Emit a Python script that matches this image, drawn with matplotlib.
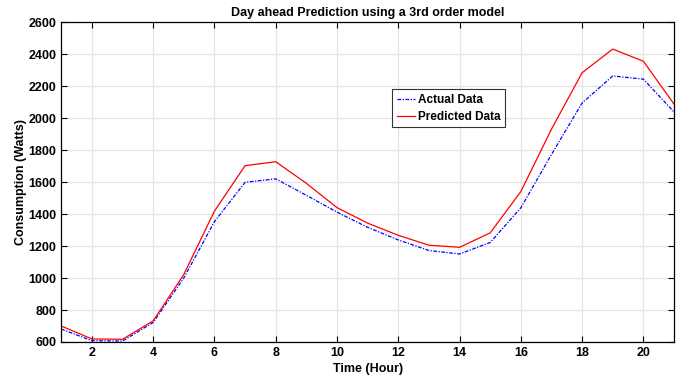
import numpy as np
import matplotlib
matplotlib.use("Agg")
import matplotlib.pyplot as plt

hours = np.arange(1, 22)
actual = [681, 608, 606, 722, 1000, 1352, 1598, 1620, 1517, 1412, 1317,
          1238, 1172, 1150, 1222, 1439, 1772, 2094, 2263, 2243, 2038]
predicted = [700, 619, 617, 732, 1022, 1418, 1702, 1727, 1592, 1440, 1343,
             1267, 1205, 1192, 1282, 1540, 1930, 2283, 2431, 2355, 2087]

plt.rcParams['font.family'] = ['Liberation Sans', 'DejaVu Sans']
plt.rcParams['font.weight'] = 'bold'

fig = plt.figure(figsize=(6.92, 3.8), dpi=100)
ax = fig.add_axes([0.0885, 0.1, 0.8855, 0.842])

ax.plot(hours, actual, color='blue', linewidth=0.9, dashes=(3, 1.2, 1, 1.2),
        label='Actual Data')
ax.plot(hours, predicted, color='red', linestyle='-', linewidth=0.9, label='Predicted Data')

ax.set_xlim(1, 21)
ax.set_ylim(600, 2600)
ax.set_xticks(np.arange(2, 21, 2))
ax.set_yticks(np.arange(600, 2601, 200))
ax.grid(True, color='#e3e3e3', linewidth=0.9)
ax.set_axisbelow(True)
ax.tick_params(direction='in', top=True, right=True, labelsize=9, length=4, width=0.8)
for lbl in ax.get_xticklabels() + ax.get_yticklabels():
    lbl.set_fontweight('bold')
for s in ax.spines.values():
    s.set_linewidth(0.9)

ax.set_title('Day ahead Prediction using a 3rd order model', fontsize=9, fontweight='bold', pad=4)
ax.set_xlabel('Time (Hour)', fontsize=9, fontweight='bold', labelpad=3)
ax.set_ylabel('Consumption (Watts)', fontsize=9, fontweight='bold', labelpad=1)

leg = ax.legend(loc='upper left', bbox_to_anchor=(0.54, 0.79), fontsize=8.5,
                frameon=True, fancybox=False, edgecolor='black',
                handlelength=1.5, handletextpad=0.3, borderpad=0.4,
                labelspacing=0.4, borderaxespad=0)
leg.get_frame().set_linewidth(0.8)
for t in leg.get_texts():
    t.set_fontweight('bold')

fig.savefig('out.png', dpi=100)
